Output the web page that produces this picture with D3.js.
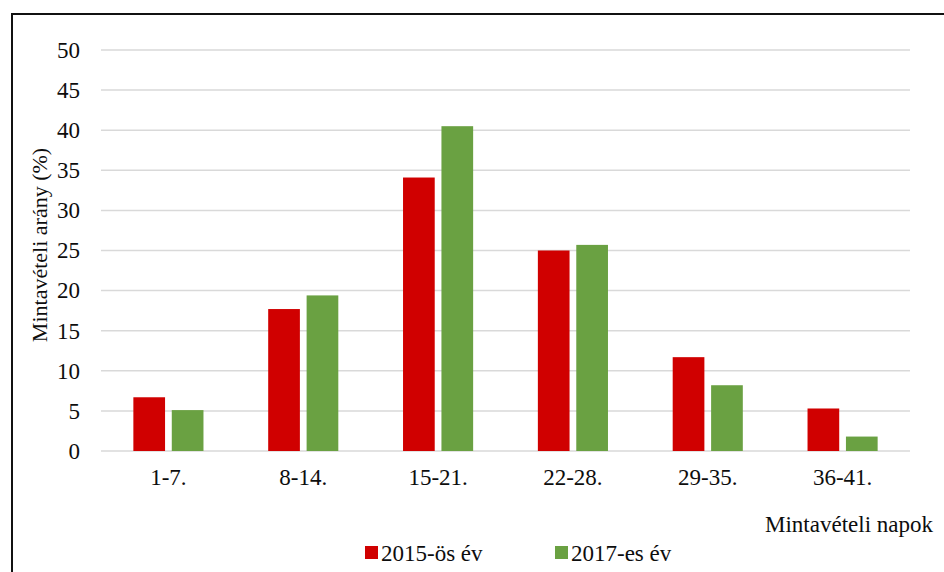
<!DOCTYPE html>
<html>
<head>
<meta charset="utf-8">
<script src="https://cdn.jsdelivr.net/npm/d3@7"></script>
<style>
  body { margin: 0; background: #fff; }
  text { font-family: "Liberation Serif", "Times New Roman", serif; fill: #0d0d0d; }
</style>
</head>
<body>
<div id="chart"></div>
<script>
// data
var categories = ["1-7.", "8-14.", "15-21.", "22-28.", "29-35.", "36-41."];
var seriesNames = ["2015-ös év", "2017-es év"];
var values2015 = [6.7, 17.7, 34.1, 25.0, 11.7, 5.3];
var values2017 = [5.1, 19.4, 40.5, 25.7, 8.2, 1.8];
var yTicks = [0, 5, 10, 15, 20, 25, 30, 35, 40, 45, 50];
var colors = ["#d00000", "#6aa142"];

var svgWidth = 944;
var svgHeight = 572;

var margin = { top: 50, right: 34, bottom: 121, left: 101 };
var width = svgWidth - margin.left - margin.right;
var height = svgHeight - margin.top - margin.bottom;

var svg = d3.select("#chart")
  .append("svg")
  .attr("width", svgWidth)
  .attr("height", svgHeight);

// outer frame (runs off the right and bottom edge)
svg.append("rect")
  .attr("x", 12)
  .attr("y", 14)
  .attr("width", 1000)
  .attr("height", 1000)
  .attr("fill", "none")
  .attr("stroke", "#111")
  .attr("stroke-width", 2);

var chartGroup = svg.append("g")
  .attr("transform", `translate(${margin.left}, ${margin.top})`);

// scales
var x0 = d3.scaleBand()
  .domain(categories)
  .range([0, width])
  .paddingInner(0.48)
  .paddingOuter(0.24);

var x1 = d3.scaleBand()
  .domain(seriesNames)
  .range([0, x0.bandwidth()])
  .paddingInner(0.175);

var y = d3.scaleLinear()
  .domain([0, 50])
  .range([height, 0]);

// gridlines
chartGroup.append("g")
  .selectAll("line")
  .data(yTicks)
  .enter()
  .append("line")
  .attr("x1", 0)
  .attr("x2", width)
  .attr("y1", d => y(d))
  .attr("y2", d => y(d))
  .attr("stroke", "#d9d9d9")
  .attr("stroke-width", 1.5);

// y axis labels
var leftAxis = d3.axisLeft(y).tickValues(yTicks).tickSize(0).tickPadding(21);
var yAxisG = chartGroup.append("g").call(leftAxis);
yAxisG.select(".domain").remove();
yAxisG.selectAll("text")
  .style("font-size", "23px")
  .style("font-family", "Liberation Serif, serif")
  .attr("fill", "#0d0d0d");

// x axis labels
var bottomAxis = d3.axisBottom(x0).tickSize(0).tickPadding(18);
var xAxisG = chartGroup.append("g")
  .attr("transform", `translate(0, ${height})`)
  .call(bottomAxis);
xAxisG.select(".domain").remove();
xAxisG.selectAll("text")
  .style("font-size", "23px")
  .style("font-family", "Liberation Serif, serif")
  .attr("fill", "#0d0d0d");

// bars
var rows = categories.map((c, i) => ({ cat: c, vals: [values2015[i], values2017[i]] }));

var groups = chartGroup.selectAll(".catGroup")
  .data(rows)
  .enter()
  .append("g")
  .attr("class", "catGroup")
  .attr("transform", d => `translate(${x0(d.cat)}, 0)`);

groups.selectAll("rect")
  .data(d => d.vals.map((v, j) => ({ name: seriesNames[j], value: v, color: colors[j] })))
  .enter()
  .append("rect")
  .attr("x", d => x1(d.name))
  .attr("y", d => y(d.value))
  .attr("width", x1.bandwidth())
  .attr("height", d => height - y(d.value))
  .attr("fill", d => d.color);

// axis titles
svg.append("text")
  .attr("transform", "rotate(-90)")
  .attr("x", -245)
  .attr("y", 47)
  .attr("text-anchor", "middle")
  .style("font-size", "22px")
  .text("Mintavételi arány (%)");

svg.append("text")
  .attr("x", 933)
  .attr("y", 532)
  .attr("text-anchor", "end")
  .style("font-size", "23px")
  .text("Mintavételi napok");

// legend
var legendX = [365, 555];
var legend = svg.selectAll(".legendItem")
  .data(seriesNames)
  .enter()
  .append("g")
  .attr("class", "legendItem")
  .attr("transform", (d, i) => `translate(${legendX[i]}, 546)`);

legend.append("rect")
  .attr("width", 13)
  .attr("height", 13)
  .attr("fill", (d, i) => colors[i]);

legend.append("text")
  .attr("x", 16)
  .attr("y", 15)
  .style("font-size", "23px")
  .text(d => d);
</script>
</body>
</html>
